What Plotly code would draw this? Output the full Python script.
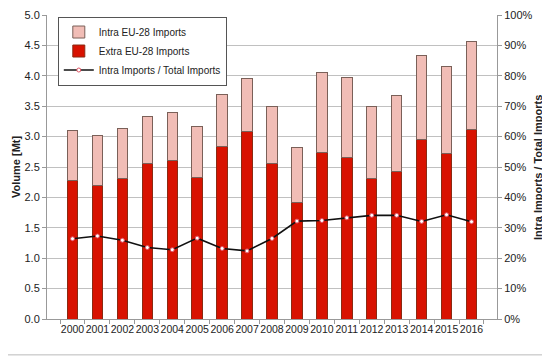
import plotly.graph_objects as go

years = [str(y) for y in range(2000, 2017)]
extra = [2.28, 2.19, 2.31, 2.55, 2.61, 2.32, 2.84, 3.08, 2.56, 1.92, 2.74, 2.65, 2.31, 2.43, 2.95, 2.73, 3.11]
intra = [0.82, 0.82, 0.82, 0.78, 0.78, 0.84, 0.86, 0.88, 0.93, 0.90, 1.31, 1.32, 1.19, 1.25, 1.39, 1.43, 1.45]
ratio = [26.4, 27.3, 25.9, 23.5, 22.8, 26.6, 23.2, 22.4, 26.5, 32.2, 32.4, 33.3, 34.1, 34.1, 32.1, 34.3, 32.0]

font = "Liberation Sans, Arial, sans-serif"
fig = go.Figure()
fig.add_trace(go.Bar(x=years, y=extra, name="Extra EU-28 Imports",
                     marker=dict(color="#d81200", line=dict(color="#8a2a12", width=1)),
                     legendrank=2))
fig.add_trace(go.Bar(x=years, y=intra, name="Intra EU-28 Imports",
                     marker=dict(color="#f1bdb6", line=dict(color="#7a6058", width=1)),
                     legendrank=1))
fig.add_trace(go.Scatter(x=years, y=ratio, name="Intra Imports / Total Imports", yaxis="y2",
                         mode="lines+markers",
                         line=dict(color="#111111", width=1.6),
                         marker=dict(symbol="circle", size=4, color="white",
                                     line=dict(color="#e05060", width=1)),
                         legendrank=3))

# the page body adds an 8px offset, so the figure is 8px smaller
fig.update_layout(
    width=542, height=349,
    margin=dict(l=39, r=53, t=7, b=38, autoexpand=False),
    barmode="stack", bargap=0.58,
    paper_bgcolor="white", plot_bgcolor="white",
    font=dict(family=font, size=11, color="#222222"),
    showlegend=True,
    legend=dict(x=0.024, y=0.995, xanchor="left", yanchor="top",
                bgcolor="white", bordercolor="#555555", borderwidth=1,
                font=dict(size=10, color="#222222"), tracegroupgap=0,
                itemwidth=30, traceorder="normal"),
    xaxis=dict(type="category", showgrid=False, showline=True, linecolor="#999999",
               ticks="outside", tickson="boundaries", ticklen=4, tickcolor="#999999",
               tickangle=0, tickfont=dict(size=10.5), automargin=False),
    yaxis=dict(range=[0, 5.0], dtick=0.5, tickformat=".1f", showgrid=True,
               gridcolor="#c0c0c0", gridwidth=1, showline=True, linecolor="#999999",
               ticks="outside", ticklen=4, tickcolor="#999999", automargin=False,
               ticklabeloverflow="allow", zeroline=False),
    yaxis2=dict(range=[0, 100], dtick=10, ticksuffix="%", overlaying="y", side="right",
                showgrid=False, showline=True, linecolor="#999999",
                ticks="outside", ticklen=4, tickcolor="#999999", automargin=False,
                ticklabeloverflow="allow", zeroline=False),
    annotations=[
        dict(text="<b>Volume [Mt]</b>", xref="paper", yref="paper",
             x=-0.069, y=0.5, xanchor="center", yanchor="middle", textangle=-90,
             showarrow=False, font=dict(size=11, color="#222222")),
        dict(text="<b>Intra Imports / Total Imports</b>", xref="paper", yref="paper",
             x=1.091, y=0.5, xanchor="center", yanchor="middle", textangle=-90,
             showarrow=False, font=dict(size=11, color="#222222")),
    ],
)

# outer frame of the chart (right and bottom edges visible)
fig.add_shape(type="rect", xref="paper", yref="paper",
              x0=-0.3, x1=1.1133, y0=-0.118, y1=1.2,
              line=dict(color="#bbbbbb", width=1), layer="below")

fig.write_html("out.html")
